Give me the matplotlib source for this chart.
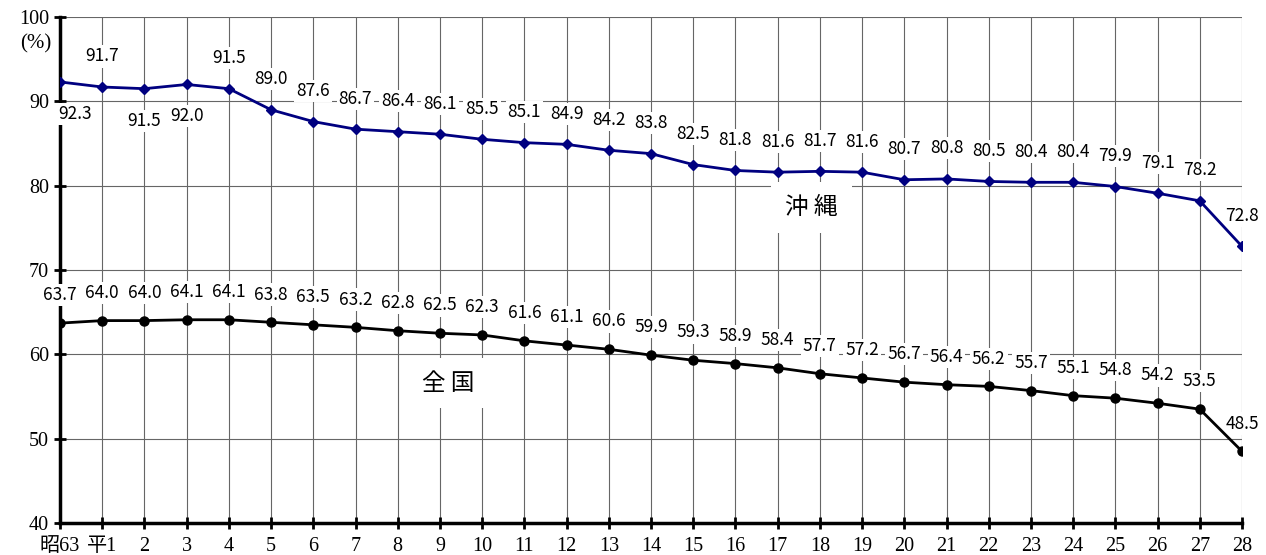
import matplotlib.pyplot as plt
import numpy as np

plt.rcParams['font.family'] = ['Noto Sans CJK JP', 'DejaVu Sans']

years = ['昭63', '平1'] + [str(i) for i in range(2, 29)]
okinawa = [92.3, 91.7, 91.5, 92.0, 91.5, 89.0, 87.6, 86.7, 86.4, 86.1, 85.5,
           85.1, 84.9, 84.2, 83.8, 82.5, 81.8, 81.6, 81.7, 81.6, 80.7, 80.8,
           80.5, 80.4, 80.4, 79.9, 79.1, 78.2, 72.8]
zenkoku = [63.7, 64.0, 64.0, 64.1, 64.1, 63.8, 63.5, 63.2, 62.8, 62.5, 62.3,
           61.6, 61.1, 60.6, 59.9, 59.3, 58.9, 58.4, 57.7, 57.2, 56.7, 56.4,
           56.2, 55.7, 55.1, 54.8, 54.2, 53.5, 48.5]
# Okinawa labels drawn below the point
below = {0, 2, 3}

x = np.arange(len(years))

fig = plt.figure(figsize=(12.66, 5.55), dpi=100)
ax = fig.add_axes([60 / 1266, 32 / 555, 1182 / 1266, 506 / 555])

ax.set_xlim(0, len(years) - 1)
ax.set_ylim(40, 100)
ax.set_yticks(range(40, 101, 10))
ax.set_xticks(x)
ax.set_xticklabels(years)
ax.grid(True, color='#666666', lw=0.8)
ax.set_axisbelow(True)

for s in ['top', 'right']:
    ax.spines[s].set_visible(False)
for s in ['left', 'bottom']:
    ax.spines[s].set_linewidth(2.5)
ax.tick_params(direction='inout', length=8, width=2)
ax.tick_params(axis='x', pad=6)
ax.tick_params(axis='y', pad=4)
for lab in ax.get_xticklabels() + ax.get_yticklabels():
    lab.set_family(['Liberation Serif', 'Noto Sans CJK JP'])
    lab.set_fontsize(14.5)

ax.plot(x, okinawa, color='#000080', lw=2, marker='D', ms=5, zorder=4)
ax.plot(x, zenkoku, color='black', lw=2, marker='o', ms=6.5, zorder=4)

box = dict(facecolor='white', edgecolor='none', pad=1.5)
for i, v in enumerate(okinawa):
    dy = -23 if i in below else 22
    dx = 11 if i == 0 else 0
    ax.annotate(f'{v:.1f}', (x[i], v), xytext=(dx, dy), textcoords='offset points',
                ha='center', va='center', fontsize=12.5, bbox=box, zorder=3)
for i, v in enumerate(zenkoku):
    ax.annotate(f'{v:.1f}', (x[i], v), xytext=(0, 20), textcoords='offset points',
                ha='center', va='center', fontsize=12.5, bbox=box, zorder=3)

big = dict(facecolor='white', edgecolor='none', pad=10)
ax.text(17.8, 77.4, '沖 縄', ha='center', va='center', fontsize=17, bbox=big, zorder=3)
ax.text(9.2, 56.6, '全 国', ha='center', va='center', fontsize=17, bbox=big, zorder=3)

fig.text(36 / 1266, 1 - 44 / 555, '(%)', ha='center', va='center', fontsize=15,
         family=['Liberation Serif'])

fig.savefig('out.png', dpi=100)
